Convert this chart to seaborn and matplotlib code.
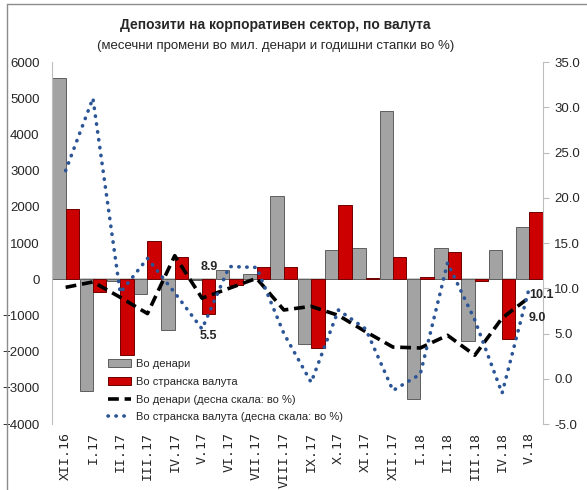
import numpy as np
import pandas as pd
import matplotlib
matplotlib.use("Agg")
import matplotlib.pyplot as plt
import seaborn as sns
from matplotlib.lines import Line2D
from matplotlib.patches import Patch

# podatoci
meseci = ['XII.16', 'I.17', 'II.17', 'III.17', 'IV.17', 'V.17', 'VI.17', 'VII.17', 'VIII.17',
          'IX.17', 'X.17', 'XI.17', 'XII.17', 'I.18', 'II.18', 'III.18', 'IV.18', 'V.18']
vo_denari = [5550, -3100, -50, -400, -1400, -30, 250, 150, 2300,
             -1800, 800, 870, 4650, -3300, 850, -1700, 820, 1450]
vo_valuta = [1950, -350, -2100, 1050, 620, -950, -150, 350, 350,
             -1900, 2050, 40, 600, 50, 750, -40, -1650, 1850]
stapka_denari = [10.1, 10.7, 9.0, 7.2, 13.6, 8.9, 10.0, 11.1, 7.6,
                 8.0, 7.0, 5.2, 3.5, 3.4, 4.8, 2.6, 6.7, 9.0]
stapka_valuta = [23.0, 31.0, 9.5, 13.3, 9.5, 5.5, 12.4, 12.3, 5.0,
                 -0.4, 7.6, 5.5, -1.3, 0.5, 12.8, 6.5, -1.6, 10.1]

lbl_den = 'Во денари'
lbl_val = 'Во странска валута'
lbl_den_p = 'Во денари (десна скала: во %)'
lbl_val_p = 'Во странска валута (десна скала: во %)'

df_bar = pd.DataFrame({
    'mesec': meseci * 2,
    'vrednost': vo_denari + vo_valuta,
    'serija': [lbl_den] * len(meseci) + [lbl_val] * len(meseci),
})
df_lin = pd.DataFrame({
    'x': np.arange(len(meseci)),
    'den': stapka_denari,
    'val': stapka_valuta,
})

SIVA = '#a3a3a3'
CRVENA = '#cc0000'
SINA = '#2b5597'
crni_crti = (0, (3, 1.6))
tocki = (0, (0.1, 2.1))

sns.set_style('white')
plt.rcParams['font.family'] = ['Liberation Sans', 'DejaVu Sans']

fig = plt.figure(figsize=(5.87, 4.90), dpi=100)
ax = fig.add_axes([52 / 587, 1 - 424 / 490, 491 / 587, 362 / 490])

sns.barplot(data=df_bar, x='mesec', y='vrednost', hue='serija', order=meseci,
            palette={lbl_den: SIVA, lbl_val: CRVENA}, saturation=1, width=0.98,
            edgecolor='#5e5e5e', linewidth=0.7, legend=False, ax=ax, zorder=2)
for p in ax.patches:
    fc = p.get_facecolor()
    if fc[0] > 0.7 and fc[1] < 0.2:
        p.set_edgecolor('#6e0000')

ax.axhline(0, color='#bdbdbd', lw=1.2, zorder=1)
ax.set_xlim(-0.5, 17.5)
ax.set_ylim(-4000, 6000)
ax.set_yticks(range(-4000, 6001, 1000))
ax.tick_params(axis='y', labelsize=9.5, length=0, pad=9)
ax.tick_params(axis='x', labelsize=9.5, length=0, pad=6)
ax.set_xticks(range(len(meseci)))
ax.set_xticklabels(meseci, rotation=90, family='DejaVu Sans Mono')
ax.set_xlabel('')
ax.set_ylabel('')
for s in ['top', 'bottom', 'right']:
    ax.spines[s].set_visible(False)
ax.spines['left'].set_color('#bdbdbd')

ax2 = ax.twinx()
sns.lineplot(data=df_lin, x='x', y='den', ax=ax2, color='black', lw=2.6,
             linestyle=crni_crti, zorder=3)
sns.lineplot(data=df_lin, x='x', y='val', ax=ax2, color=SINA, lw=2.6,
             linestyle=tocki, dash_capstyle='round', zorder=3)
ax2.set_ylim(-5, 35)
ax2.set_yticks(np.arange(-5, 35.1, 5))
ax2.set_yticklabels([f'{v:.1f}' for v in np.arange(-5, 35.1, 5)])
ax2.tick_params(axis='y', labelsize=9.5, length=4, color='#bdbdbd', direction='out', pad=4)
ax2.set_ylabel('')
ax2.set_xlabel('')
for s in ['top', 'bottom', 'left']:
    ax2.spines[s].set_visible(False)
ax2.spines['right'].set_color('#bdbdbd')
ax2.set_xlim(-0.5, 17.5)

# oznaki na vrednosti
ax2.text(5.27, 12.3, '8.9', fontsize=9, fontweight='bold', ha='center', va='center')
ax2.text(5.24, 4.7, '5.5', fontsize=9, fontweight='bold', ha='center', va='center')
ax2.text(16.98, 9.2, '10.1', fontsize=9, fontweight='bold', ha='left', va='center')
ax2.text(16.98, 6.7, '9.0', fontsize=9, fontweight='bold', ha='left', va='center')

# legenda
handles = [
    Patch(facecolor=SIVA, edgecolor='#5e5e5e', lw=0.7),
    Patch(facecolor=CRVENA, edgecolor='#6e0000', lw=0.7),
    Line2D([0], [0], color='black', lw=2.6, linestyle=crni_crti),
    Line2D([0], [0], color=SINA, lw=2.6, linestyle=tocki, dash_capstyle='round'),
]
fig.legend(handles, [lbl_den, lbl_val, lbl_den_p, lbl_val_p], loc='upper left',
           bbox_to_anchor=(108 / 587, 1 - 359 / 490), frameon=False, fontsize=8,
           handlelength=2.1, handleheight=0.7, labelspacing=0.7, handletextpad=0.4,
           borderpad=0, borderaxespad=0)

fig.text(275 / 587, 1 - 25 / 490, 'Депозити на корпоративен сектор, по валута',
         ha='center', va='center', fontsize=10, fontweight='bold')
fig.text(276 / 587, 1 - 46 / 490, '(месечни промени во мил. денари и годишни стапки во %)',
         ha='center', va='center', fontsize=9.5)

# ramka
fig.add_artist(Line2D([7 / 587, 7 / 587], [0, 1 - 4 / 490], transform=fig.transFigure,
                      color='#8c8c8c', lw=1))
fig.add_artist(Line2D([7 / 587, 1], [1 - 4 / 490, 1 - 4 / 490], transform=fig.transFigure,
                      color='#8c8c8c', lw=1))

fig.savefig('out.png', dpi=100)
